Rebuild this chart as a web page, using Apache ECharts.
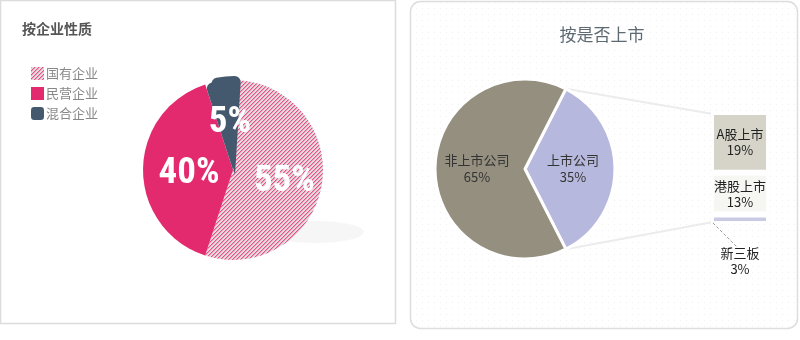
<!DOCTYPE html>
<html>
<head>
<meta charset="utf-8">
<script src="https://cdn.jsdelivr.net/npm/echarts@6/dist/echarts.min.js"></script>
<style>
html,body{margin:0;padding:0;background:#fff;}
#main{width:800px;height:340px;}
</style>
</head>
<body>
<div id="main"></div>
<script>
// ---- data ----
var natureTitle = '按企业性质';
var natureNames = ['国有企业', '民营企业', '混合企业'];
var natureValues = [55, 40, 5];

var listedTitle = '按是否上市';
var listedNames = ['上市公司', '非上市公司'];
var listedValues = [35, 65];

var subNames = ['A股上市', '港股上市', '新三板'];
var subValues = [19, 13, 3];

// ---- helpers ----
function hatchCanvas() {
  var c = document.createElement('canvas');
  c.width = 4; c.height = 4;
  var ctx = c.getContext('2d');
  ctx.fillStyle = '#dedede';
  ctx.fillRect(0, 0, 4, 4);
  for (var x = 0; x < 4; x++) {
    for (var y = 0; y < 4; y++) {
      var k = (x + y) % 4;
      if (k === 3) { ctx.fillStyle = '#ec4f86'; ctx.fillRect(x, y, 1, 1); }
      else if (k === 0) { ctx.fillStyle = '#eda0bb'; ctx.fillRect(x, y, 1, 1); }
    }
  }
  return c;
}
function dotCanvas() {
  var c = document.createElement('canvas');
  c.width = 6; c.height = 6;
  var ctx = c.getContext('2d');
  ctx.fillStyle = '#ffffff';
  ctx.fillRect(0, 0, 6, 6);
  ctx.fillStyle = '#f0f0f0';
  ctx.fillRect(2, 2, 1, 1);
  return c;
}

var hatch = { image: hatchCanvas(), repeat: 'repeat' };
var natureColors = [hatch, '#e42a6f', '#44586e'];
var listedColors = ['#b7b8dd', '#958f80'];
var subColors = ['#d6d4c8', '#f6f6f3', '#c9cbe5'];

var cjk = '"Noto Sans CJK SC", "Noto Sans", sans-serif';
var bigFont = '"Roboto Condensed", "Open Sans Condensed", sans-serif';

var pieL = { cx: 233, cy: 170, r: 90 };
var pieLo = { cx: 235, cy: 175, r: 99, start: 86.5 };
var pieR = { cx: 525, cy: 169, r: 90, start: 63 };

var chart = echarts.init(document.getElementById('main'), null, { renderer: 'canvas' });

function pctLabel(off) {
  return {
    show: true, position: 'inside', color: '#fff', fontSize: 37, fontWeight: 'bold',
    fontFamily: bigFont, formatter: '{c}%', offset: off
  };
}

var natureData = natureNames.map(function (n, i) {
  var d = { name: n, value: natureValues[i], itemStyle: { color: natureColors[i] } };
  if (i === 2) { d.itemStyle.borderRadius = 6; d.label = { show: false }; }
  return d;
});
var natureOverlay = natureNames.map(function (n, i) {
  return {
    name: 'ov' + i, value: natureValues[i],
    itemStyle: i === 2 ? { color: natureColors[2], borderRadius: 6 } : { color: 'rgba(0,0,0,0)' },
    label: { show: i === 2 }
  };
});

var subSeries = subNames.map(function (n, i) {
  var s = {
    name: n, type: 'bar', stack: 'sub', barWidth: '100%',
    xAxisIndex: 0, yAxisIndex: 0,
    data: [subValues[i]],
    itemStyle: { color: subColors[i], borderColor: '#ffffff', borderWidth: 3 },
    label: {
      show: true, position: 'inside', color: '#222', fontSize: 13, lineHeight: 16,
      fontFamily: cjk,
      formatter: function (p) { return p.seriesName + '\n' + p.value + '%'; }
    },
    emphasis: { disabled: true }, silent: true
  };
  if (i === 2) {
    s.label.position = 'bottom';
    s.label.distance = 21;
  }
  return s;
});

var option = {
  animation: false,
  title: [
    { text: natureTitle, left: 17, top: 17, textStyle: { fontSize: 14, fontWeight: 'bold', color: '#555', fontFamily: cjk } },
    { text: listedTitle, left: 597, top: 21, textAlign: 'center', textStyle: { fontSize: 17, fontWeight: 'normal', color: '#5e6a72', fontFamily: cjk } }
  ],
  legend: {
    orient: 'vertical', left: 26, top: 62, itemGap: 7, itemWidth: 13, itemHeight: 13,
    textStyle: { color: '#888', fontSize: 13, fontFamily: cjk, padding: [0, 0, 0, -3] },
    data: [
      { name: natureNames[0], icon: 'rect' },
      { name: natureNames[1], icon: 'rect' },
      { name: natureNames[2], icon: 'roundRect' }
    ],
    selectedMode: false
  },
  grid: { left: 711, top: 112, width: 58, height: 112 },
  xAxis: { type: 'category', data: [''], show: false },
  yAxis: { type: 'value', min: 0, max: 35, inverse: true, show: false },
  graphic: [
    { type: 'rect', z: -10, shape: { x: 0.5, y: 0.5, width: 395, height: 323 }, style: { fill: '#fff', stroke: '#dcdcdc', lineWidth: 1.5 } },
    { type: 'rect', z: -10, shape: { x: 410.5, y: 1.5, width: 387, height: 327, r: 10 }, style: { fill: { image: dotCanvas(), repeat: 'repeat' }, stroke: '#dddddd', lineWidth: 1.5 } },
    { type: 'ellipse', z: -5, shape: { cx: 316, cy: 232, rx: 48, ry: 11 }, style: { fill: 'rgba(0,0,0,0.035)', shadowBlur: 16, shadowColor: 'rgba(0,0,0,0.10)' } }
  ],
  series: [
    {
      type: 'pie', name: natureTitle, z: 2, center: [pieL.cx, pieL.cy], radius: [0, pieL.r],
      startAngle: 90, clockwise: true, silent: true,
      label: pctLabel([4, 4]),
      labelLine: { show: false },
      data: natureData, emphasis: { disabled: true }
    },
    {
      type: 'pie', name: 'overlay', z: 3, center: [pieLo.cx, pieLo.cy], radius: [0, pieLo.r],
      startAngle: pieLo.start, clockwise: true, silent: true, legendHoverLink: false,
      label: pctLabel([0, 0]), labelLine: { show: false },
      data: natureOverlay, emphasis: { disabled: true }
    },
    {
      type: 'pie', name: listedTitle, center: [pieR.cx, pieR.cy], radius: [0, pieR.r],
      startAngle: pieR.start, clockwise: true, silent: true,
      itemStyle: { borderColor: '#fff', borderWidth: 3 },
      label: {
        show: true, position: 'inside', color: '#333', fontSize: 13, lineHeight: 17, fontFamily: cjk,
        formatter: function (p) { return p.name + '\n' + p.value + '%'; }
      },
      labelLine: { show: false },
      data: listedNames.map(function (n, i) { return { name: n, value: listedValues[i], itemStyle: { color: listedColors[i] } }; }),
      emphasis: { disabled: true }
    }
  ].concat(subSeries)
};
chart.setOption(option);

// connector lines derived from the chart's own geometry
var half = listedValues[0] / (listedValues[0] + listedValues[1]) * Math.PI;
var a0 = pieR.start * Math.PI / 180;
var a1 = a0 - 2 * half;
var p0 = [pieR.cx + pieR.r * Math.cos(a0), pieR.cy - pieR.r * Math.sin(a0)];
var p1 = [pieR.cx + pieR.r * Math.cos(a1), pieR.cy - pieR.r * Math.sin(a1)];
var total = subValues.reduce(function (s, v) { return s + v; }, 0);
var topPx = chart.convertToPixel({ gridIndex: 0 }, [0, 0]);
var botPx = chart.convertToPixel({ gridIndex: 0 }, [0, total]);
var barLeft = option.grid.left + 2;
chart.setOption({
  graphic: option.graphic.concat([
    { type: 'line', z: -1, shape: { x1: p0[0], y1: p0[1], x2: barLeft, y2: topPx[1] + 2 }, style: { stroke: '#ececec', lineWidth: 2 } },
    { type: 'line', z: -1, shape: { x1: p1[0], y1: p1[1], x2: barLeft, y2: botPx[1] - 2 }, style: { stroke: '#ececec', lineWidth: 2 } },
    { type: 'line', z: 10, shape: { x1: barLeft, y1: botPx[1] - 1, x2: barLeft + 24, y2: botPx[1] + 23 }, style: { stroke: '#999', lineWidth: 1, lineDash: [3, 2] } }
  ])
});
</script>
</body>
</html>
